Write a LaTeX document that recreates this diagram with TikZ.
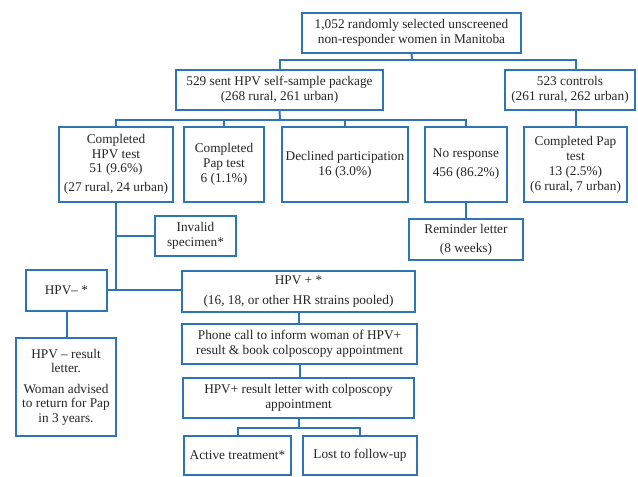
\documentclass[tikz,border=0pt]{standalone}
\usepackage{fontspec}
\setmainfont{Liberation Serif}
\begin{document}
\begin{tikzpicture}[x=1pt,y=-1pt,
  box/.style={draw=boxblue,line width=2pt,fill=white,inner sep=0pt,outer sep=0pt,
    align=center,font=\fontsize{13.3}{15}\selectfont,text=black!85},
  tight/.style={font=\fontsize{13.3}{14.5}\selectfont},
  conn/.style={draw=boxblue,line width=2pt}]
\definecolor{boxblue}{HTML}{2E75B6}
\useasboundingbox (0,0) rectangle (638,477);
\newcommand{\bx}[7][]{\node[box,#1,minimum width=#5pt-#3pt,minimum height=#6pt-#4pt] (#2) at ({(#3+#5)/2},{(#4+#6)/2}) {#7};}
\bx{top}{302}{13}{521}{53}{1,052 randomly selected unscreened\\non-responder women in Manitoba}
\bx{s529}{176}{70}{383}{110}{529 sent HPV self-sample package\\(268 rural, 261 urban)}
\bx{ctrl}{505}{70}{635}{110}{523 controls\\(261 rural, 262 urban)}
\bx[tight]{hpv}{59}{127}{173}{202}{Completed\\HPV test\\51 (9.6\%)\\[4pt](27 rural, 24 urban)}
\bx{pap}{184}{127}{264}{202}{Completed\\Pap test\\6 (1.1\%)}
\bx{decl}{282}{127}{408}{202}{Declined participation\\16 (3.0\%)}
\bx{nores}{425}{127}{507}{202}{No response\\[4pt]456 (86.2\%)}
\bx{cpap}{524}{127}{627}{202}{Completed Pap\\test\\13 (2.5\%)\\(6 rural, 7 urban)}
\bx{remind}{409}{219}{523}{260}{Reminder letter\\[4pt](8 weeks)}
\bx{inv}{155}{216}{236}{256}{Invalid\\specimen*}
\bx{neg}{26}{270}{107}{311}{HPV– *}
\bx{pos}{182}{271}{415}{312}{HPV + *\\[5pt](16, 18, or other HR strains pooled)}
\bx[tight]{negl}{16}{338}{116}{436}{HPV – result\\letter.\\[6pt]Woman advised\\to return for Pap\\in 3 years.}
\bx{phone}{182}{324}{417}{364}{Phone call to inform woman of HPV+\\result \& book colposcopy appointment}
\bx{posl}{183}{378}{414}{418}{HPV+ result letter with colposcopy\\appointment}
\bx{act}{184}{436}{291}{475}{Active treatment*}
\bx{lost}{303}{436}{417}{475}{Lost to follow-up}
% connectors
\coordinate (j1) at (412,60);
\draw[conn] (top.south) -- (j1);
\draw[conn] (s529.north) |- (j1) -| (cpap.north |- ctrl.north);
\draw[conn] (cpap.north) -- (cpap.north |- ctrl.south);
\coordinate (j2) at (280,120);
\draw[conn] (s529.south) -- (j2);
\draw[conn] (hpv.north) |- (j2) -| (nores.north);
\draw[conn] (pap.north) -- (pap.north |- j2);
\draw[conn] (decl.north) -- (decl.north |- j2);
\draw[conn] (nores.south) -- (nores.south -| remind.north) -- (remind.north);
\coordinate (j3) at (116,290);
\draw[conn] (hpv.south) -- (j3);
\draw[conn] (inv.west) -- (inv.west -| j3);
\draw[conn] (neg.east |- j3) -- (pos.west |- j3);
\draw[conn] (neg.south) -- (negl.north -| neg.south);
\draw[conn] (pos.south) -- (phone.north -| pos.south);
\draw[conn] (phone.south) -- (posl.north -| phone.south);
\coordinate (j4) at (299,428);
\draw[conn] (posl.south) -- (posl.south |- j4);
\draw[conn] (act.north) |- (j4) -| (lost.north);
\end{tikzpicture}
\end{document}
